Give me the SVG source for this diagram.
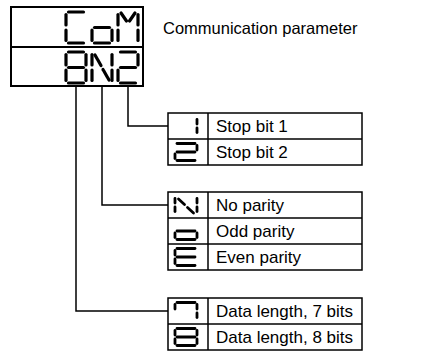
<svg xmlns="http://www.w3.org/2000/svg" width="426" height="351" viewBox="0 0 426 351">
<style>
.frame{fill:none;stroke:#000;stroke-width:2}
.tbl{fill:none;stroke:#000;stroke-width:1.5}
.wire{fill:none;stroke:#000;stroke-width:1.5}
.seg{stroke:#000;stroke-width:3.2;stroke-linecap:round}
.sseg{stroke:#000;stroke-width:2.8;stroke-linecap:round}
.lbl{font-family:"Liberation Sans",Arial,sans-serif;font-size:17px;fill:#000}
.ttl{font-family:"Liberation Sans",Arial,sans-serif;font-size:16.5px;fill:#000}
</style>
<rect width="426" height="351" fill="#fff"/>

<g id="display">
  <rect class="frame" x="11" y="7" width="132" height="79"/>
  <line class="frame" x1="11" y1="47" x2="143" y2="47"/>
  <g class="seg">
    <line x1="68.5" y1="12" x2="83.5" y2="12"/>
    <line x1="66" y1="14.5" x2="66" y2="25"/>
    <line x1="66" y1="30" x2="66" y2="40.5"/>
    <line x1="68.5" y1="43" x2="83.5" y2="43"/>
  </g>
  <g class="seg">
    <line x1="94.5" y1="27.5" x2="109.5" y2="27.5"/>
    <line x1="112" y1="30" x2="112" y2="40.5"/>
    <line x1="94.5" y1="43" x2="109.5" y2="43"/>
    <line x1="92" y1="30" x2="92" y2="40.5"/>
  </g>
  <g class="seg">
    <line x1="118" y1="14.5" x2="118" y2="25"/>
    <line x1="118" y1="30" x2="118" y2="40.5"/>
    <line x1="138" y1="14.5" x2="138" y2="25"/>
    <line x1="138" y1="30" x2="138" y2="40.5"/>
    <line x1="121" y1="13" x2="126.5" y2="21"/>
    <line x1="135" y1="13" x2="129.5" y2="21"/>
  </g>
  <g class="seg">
    <line x1="68.5" y1="52" x2="83.5" y2="52"/>
    <line x1="66" y1="54.5" x2="66" y2="65"/>
    <line x1="86" y1="54.5" x2="86" y2="65"/>
    <line x1="68.5" y1="67.5" x2="83.5" y2="67.5"/>
    <line x1="66" y1="70" x2="66" y2="80.5"/>
    <line x1="86" y1="70" x2="86" y2="80.5"/>
    <line x1="68.5" y1="83" x2="83.5" y2="83"/>
  </g>
  <g class="seg">
    <line x1="92" y1="54.5" x2="92" y2="65"/>
    <line x1="92" y1="70" x2="92" y2="80.5"/>
    <line x1="112" y1="54.5" x2="112" y2="65"/>
    <line x1="112" y1="70" x2="112" y2="80.5"/>
    <line x1="95" y1="55" x2="101" y2="65.5"/>
    <line x1="103" y1="69.5" x2="109" y2="80"/>
  </g>
  <g class="seg">
    <line x1="120.5" y1="52" x2="135.5" y2="52"/>
    <line x1="138" y1="54.5" x2="138" y2="65"/>
    <line x1="120.5" y1="67.5" x2="135.5" y2="67.5"/>
    <line x1="118" y1="70" x2="118" y2="80.5"/>
    <line x1="120.5" y1="83" x2="135.5" y2="83"/>
  </g>
</g>

<g id="title">
  <text class="ttl" x="163" y="34">Communication parameter</text>
</g>

<g id="connectors">
  <polyline class="wire" points="128,87 128,126 168,126"/>
  <polyline class="wire" points="102,87 102,205 168,205"/>
  <polyline class="wire" points="76,87 76,311 168,311"/>
</g>

<g id="stop-bits">
  <rect class="tbl" x="168" y="113" width="194" height="52"/>
  <line class="tbl" x1="168" y1="139" x2="362" y2="139"/>
  <line class="tbl" x1="208" y1="113" x2="208" y2="165"/>
  <g class="sseg">
    <line x1="197" y1="119.5" x2="197" y2="124"/>
    <line x1="197" y1="128" x2="197" y2="132.5"/>
  </g>
  <g class="sseg">
    <line x1="177" y1="143.5" x2="195" y2="143.5"/>
    <line x1="197" y1="145.5" x2="197" y2="150"/>
    <line x1="177" y1="152" x2="195" y2="152"/>
    <line x1="175" y1="154" x2="175" y2="158.5"/>
    <line x1="177" y1="160.5" x2="195" y2="160.5"/>
  </g>
  <text class="lbl" x="216" y="132">Stop bit 1</text>
  <text class="lbl" x="216" y="158">Stop bit 2</text>
</g>

<g id="parity">
  <rect class="tbl" x="168" y="192" width="194" height="78"/>
  <line class="tbl" x1="168" y1="218" x2="362" y2="218"/>
  <line class="tbl" x1="168" y1="244" x2="362" y2="244"/>
  <line class="tbl" x1="208" y1="192" x2="208" y2="270"/>
  <g class="sseg">
    <line x1="175" y1="198.5" x2="175" y2="203"/>
    <line x1="175" y1="207" x2="175" y2="211.5"/>
    <line x1="197" y1="198.5" x2="197" y2="203"/>
    <line x1="197" y1="207" x2="197" y2="211.5"/>
    <line x1="178.5" y1="199" x2="184.5" y2="204.5"/>
    <line x1="187.5" y1="207.5" x2="193.5" y2="213"/>
  </g>
  <g class="sseg">
    <line x1="177" y1="231" x2="195" y2="231"/>
    <line x1="197" y1="233" x2="197" y2="237.5"/>
    <line x1="177" y1="239.5" x2="195" y2="239.5"/>
    <line x1="175" y1="233" x2="175" y2="237.5"/>
  </g>
  <g class="sseg">
    <line x1="177" y1="248.5" x2="195" y2="248.5"/>
    <line x1="175" y1="250.5" x2="175" y2="255"/>
    <line x1="177" y1="257" x2="195" y2="257"/>
    <line x1="175" y1="259" x2="175" y2="263.5"/>
    <line x1="177" y1="265.5" x2="195" y2="265.5"/>
  </g>
  <text class="lbl" x="216" y="211">No parity</text>
  <text class="lbl" x="216" y="237">Odd parity</text>
  <text class="lbl" x="216" y="263">Even parity</text>
</g>

<g id="data-length">
  <rect class="tbl" x="168" y="298" width="194" height="52"/>
  <line class="tbl" x1="168" y1="324" x2="362" y2="324"/>
  <line class="tbl" x1="208" y1="298" x2="208" y2="350"/>
  <g class="sseg">
    <line x1="177" y1="302.5" x2="195" y2="302.5"/>
    <line x1="175" y1="304.5" x2="175" y2="309"/>
    <line x1="197" y1="304.5" x2="197" y2="309"/>
    <line x1="197" y1="313" x2="197" y2="317.5"/>
  </g>
  <g class="sseg">
    <line x1="177" y1="328.5" x2="195" y2="328.5"/>
    <line x1="175" y1="330.5" x2="175" y2="335"/>
    <line x1="197" y1="330.5" x2="197" y2="335"/>
    <line x1="177" y1="337" x2="195" y2="337"/>
    <line x1="175" y1="339" x2="175" y2="343.5"/>
    <line x1="197" y1="339" x2="197" y2="343.5"/>
    <line x1="177" y1="345.5" x2="195" y2="345.5"/>
  </g>
  <text class="lbl" x="216" y="317">Data length, 7 bits</text>
  <text class="lbl" x="216" y="343">Data length, 8 bits</text>
</g>
</svg>
